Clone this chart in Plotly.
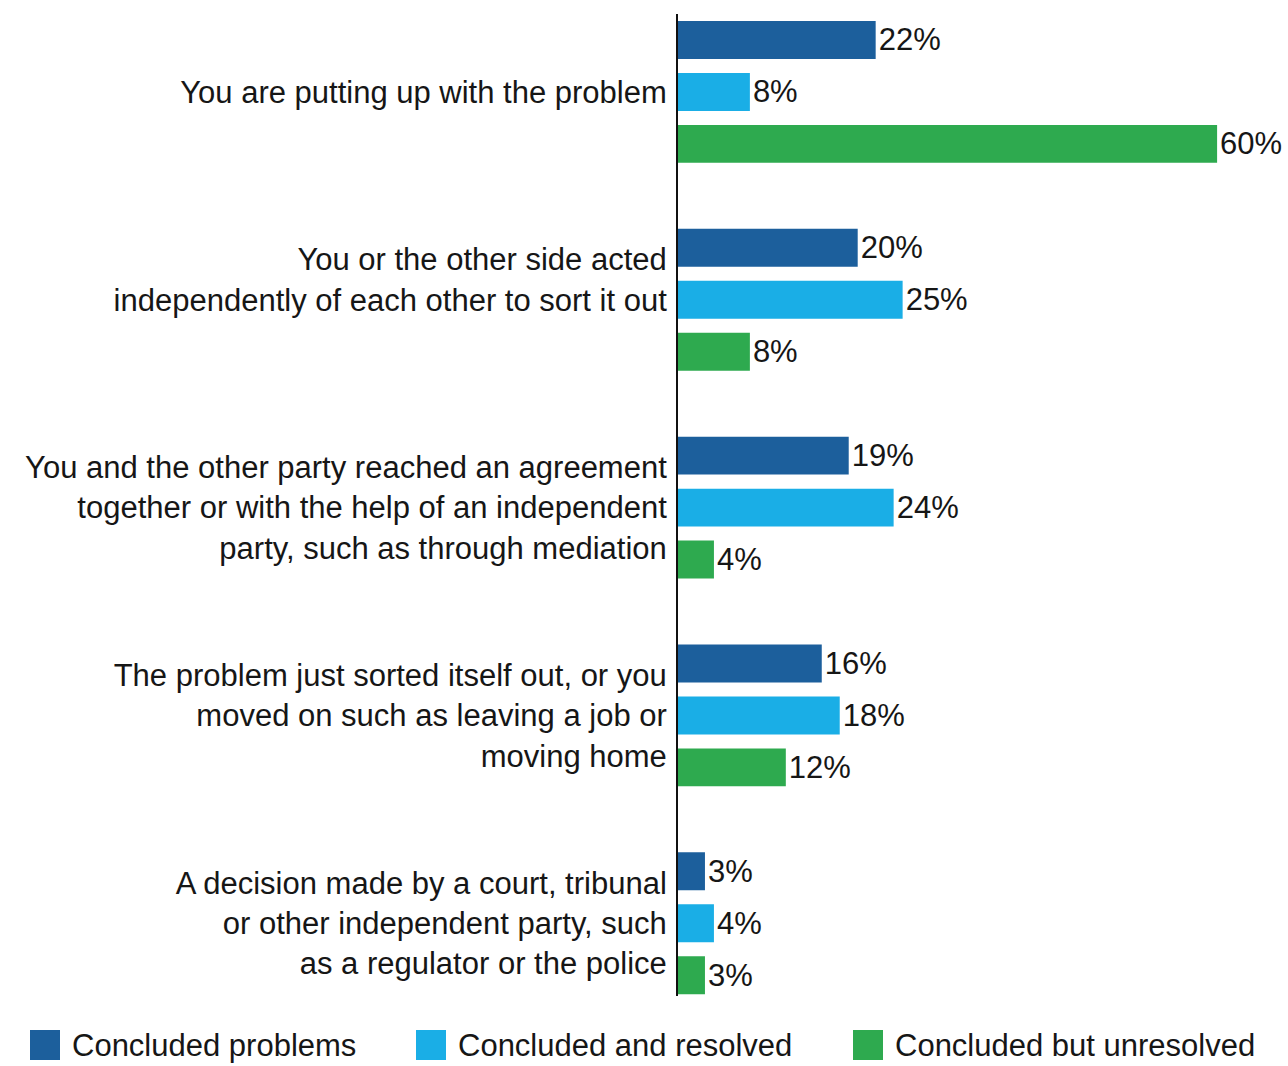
import plotly.graph_objects as go

categories = [
    "You are putting up with the problem",
    "You or the other side acted<br>independently of each other to sort it out<br> ",
    "You and the other party reached an agreement<br>together or with the help of an independent<br>party, such as through mediation",
    "The problem just sorted itself out, or you<br>moved on such as leaving a job or<br>moving home",
    "A decision made by a court, tribunal<br>or other independent party, such<br>as a regulator or the police",
]
series_names = ["Concluded problems", "Concluded and resolved", "Concluded but unresolved"]
concluded = [22, 20, 19, 16, 3]
resolved = [8, 25, 24, 18, 4]
unresolved = [60, 8, 4, 12, 3]
colors = ["#1c5f9c", "#1aaee6", "#2eaa4f"]

FONT = "Liberation Sans, Arial, sans-serif"
TEXT = "#161616"
FS = 31

fig = go.Figure()
for name, vals, col in zip(series_names, [concluded, resolved, unresolved], colors):
    fig.add_trace(go.Bar(
        y=categories, x=vals, orientation="h", name=name,
        marker=dict(color=col, line=dict(width=0)),
        text=[f"{v}%" for v in vals], textposition="outside",
        textfont=dict(size=FS, color=TEXT, family=FONT),
        constraintext="none", cliponaxis=False, showlegend=False,
    ))

# legend drawn as swatches + labels along the bottom
legend_x = [30, 416, 853]
W, H = 1288, 1066
L, R, T, B = 678, 8, 14, 70
pw, ph = W - L - R, H - T - B
LEG_Y = 1045  # vertical centre of the legend row, in pixels from the top
for lx, name, col in zip(legend_x, series_names, colors):
    fig.add_shape(type="rect", xref="paper", yref="paper",
                  x0=(lx - L) / pw, x1=(lx + 30 - L) / pw,
                  y0=-(LEG_Y + 15 - (H - B)) / ph, y1=-(LEG_Y - 15 - (H - B)) / ph,
                  fillcolor=col, line=dict(width=0), layer="above")
    fig.add_annotation(text=name, xref="paper", yref="paper",
                       x=(lx + 40 - L) / pw, y=-(LEG_Y - (H - B)) / ph,
                       xanchor="left", yanchor="middle", showarrow=False,
                       font=dict(size=FS, color=TEXT, family=FONT))

fig.update_layout(
    width=W, height=H,
    margin=dict(l=L, r=R, t=T, b=B),
    barmode="group", bargap=0.25, bargroupgap=0.27,
    plot_bgcolor="white", paper_bgcolor="white",
    font=dict(family=FONT, size=FS, color=TEXT),
)
fig.update_xaxes(range=[0, 67], showgrid=False, zeroline=False,
                 showline=False, showticklabels=False, ticks="")
fig.update_yaxes(range=[4.35, -0.375], showgrid=False, zeroline=False,
                 showline=True, linecolor="#111111", linewidth=2,
                 ticks="", ticklabelstandoff=3,
                 tickfont=dict(size=FS, color=TEXT, family=FONT))

fig.write_html("out.html")
